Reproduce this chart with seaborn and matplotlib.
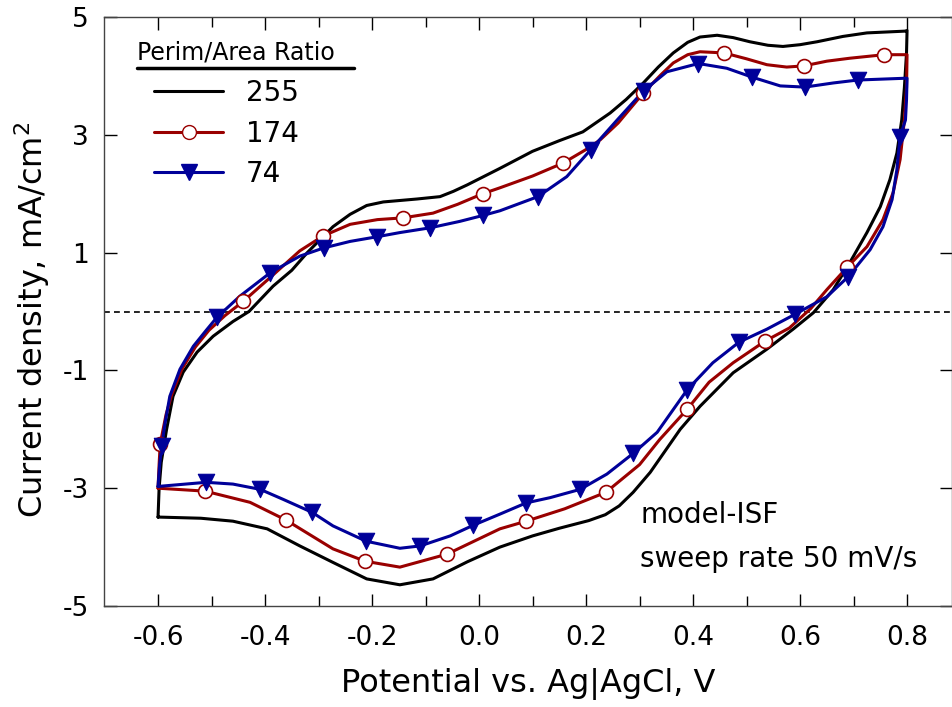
import numpy as np
import pandas as pd
import matplotlib
matplotlib.use("Agg")
import matplotlib.pyplot as plt
from matplotlib.lines import Line2D
import seaborn as sns

# ---- data (potential V, current density mA/cm2) ----
# each loop: anodic sweep -0.6 -> 0.8, then cathodic sweep 0.8 -> -0.6
x_255 = [-0.6, -0.598, -0.594, -0.584, -0.572, -0.553, -0.527, -0.497, -0.46, -0.43,
         -0.385, -0.35, -0.321, -0.295, -0.273, -0.241, -0.21, -0.179, -0.116, -0.073, -0.048,
         -0.022, 0.039, 0.10, 0.15, 0.194, 0.245, 0.275, 0.307, 0.335, 0.363, 0.39,
         0.413, 0.445, 0.475, 0.506, 0.54, 0.568, 0.60, 0.632, 0.68, 0.725, 0.796, 0.80,
         0.799, 0.795, 0.79, 0.781, 0.768, 0.75, 0.725, 0.693, 0.662, 0.625, 0.587, 0.538,
         0.475, 0.413, 0.376, 0.32, 0.288, 0.262, 0.236, 0.205, 0.15, 0.10, 0.039, -0.022,
         -0.086, -0.148, -0.21, -0.273, -0.335, -0.396, -0.46, -0.52, -0.6]
y_255 = [-3.49, -3.0, -2.56, -2.0, -1.44, -1.03, -0.69, -0.42, -0.17, 0.0,
         0.43, 0.70, 1.0, 1.24, 1.44, 1.65, 1.80, 1.86, 1.91, 1.95, 2.04,
         2.15, 2.43, 2.72, 2.90, 3.05, 3.37, 3.6, 3.88, 4.15, 4.39, 4.57,
         4.66, 4.69, 4.65, 4.58, 4.52, 4.50, 4.53, 4.58, 4.67, 4.73, 4.76, 4.77,
         4.39, 3.8, 3.25, 2.69, 2.24, 1.78, 1.34, 0.83, 0.37, -0.02, -0.3, -0.64,
         -1.04, -1.61, -2.0, -2.73, -3.07, -3.3, -3.45, -3.55, -3.68, -3.81, -4.0, -4.25,
         -4.54, -4.64, -4.54, -4.26, -3.98, -3.69, -3.56, -3.51, -3.49]

x_174 = [-0.6, -0.598, -0.596, -0.585, -0.574, -0.555, -0.53, -0.505, -0.475, -0.441,
         -0.39, -0.335, -0.292, -0.241, -0.19, -0.142, -0.086, -0.04, 0.007, 0.039,
         0.10, 0.157, 0.20, 0.226, 0.26, 0.307, 0.34, 0.363, 0.39, 0.413, 0.458, 0.50,
         0.538, 0.575, 0.607, 0.65, 0.693, 0.757, 0.80,
         0.799, 0.795, 0.787, 0.774, 0.755, 0.725, 0.688, 0.65, 0.62, 0.58, 0.535,
         0.475, 0.43, 0.389, 0.338, 0.30, 0.237, 0.16, 0.088, 0.039, -0.06, -0.148,
         -0.213, -0.273, -0.361, -0.428, -0.512, -0.6]
y_174 = [-3.0, -2.6, -2.25, -1.75, -1.4, -0.97, -0.6, -0.32, -0.07, 0.17,
         0.58, 1.03, 1.28, 1.48, 1.56, 1.59, 1.67, 1.82, 2.0, 2.1,
         2.3, 2.52, 2.75, 2.91, 3.2, 3.71, 4.02, 4.22, 4.36, 4.41, 4.39, 4.29,
         4.19, 4.15, 4.17, 4.25, 4.30, 4.36, 4.36,
         3.8, 3.25, 2.58, 2.02, 1.56, 1.1, 0.75, 0.37, 0.05, -0.28, -0.5,
         -0.87, -1.2, -1.66, -2.17, -2.6, -3.07, -3.35, -3.56, -3.69, -4.12, -4.34,
         -4.24, -4.03, -3.54, -3.24, -3.05, -3.0]
mx_174 = [-0.596, -0.441, -0.292, -0.142, 0.007, 0.157, 0.307, 0.458, 0.607, 0.757,
          0.688, 0.535, 0.389, 0.237, 0.088, -0.06, -0.213, -0.361, -0.512]
my_174 = [-2.25, 0.17, 1.28, 1.59, 2.0, 2.52, 3.71, 4.39, 4.17, 4.36,
          0.75, -0.5, -1.66, -3.07, -3.56, -4.12, -4.24, -3.54, -3.05]

x_74 = [-0.6, -0.597, -0.593, -0.587, -0.578, -0.559, -0.534, -0.51, -0.49, -0.447,
        -0.39, -0.335, -0.29, -0.241, -0.19, -0.148, -0.092, -0.036, 0.007, 0.039,
        0.11, 0.164, 0.209, 0.258, 0.308, 0.351, 0.41, 0.463, 0.51, 0.563, 0.609,
        0.662, 0.708, 0.796, 0.80,
        0.799, 0.797, 0.787, 0.781, 0.772, 0.755, 0.731, 0.69, 0.65, 0.59, 0.538,
        0.486, 0.437, 0.389, 0.333, 0.288, 0.239, 0.189, 0.133, 0.088, 0.039, -0.011,
        -0.054, -0.11, -0.148, -0.211, -0.273, -0.312, -0.366, -0.409, -0.46, -0.51, -0.6]
y_74 = [-2.97, -2.6, -2.28, -1.9, -1.44, -0.98, -0.59, -0.32, -0.1, 0.26,
        0.66, 0.94, 1.08, 1.19, 1.27, 1.34, 1.42, 1.53, 1.63, 1.71,
        1.95, 2.29, 2.75, 3.25, 3.75, 4.07, 4.21, 4.13, 3.98, 3.83, 3.81,
        3.88, 3.93, 3.96, 3.96,
        3.6, 3.25, 2.97, 2.41, 1.9, 1.44, 1.05, 0.59, 0.25, -0.05, -0.3,
        -0.52, -0.87, -1.33, -2.05, -2.41, -2.76, -3.02, -3.16, -3.25, -3.44, -3.63,
        -3.81, -3.98, -4.02, -3.90, -3.64, -3.41, -3.19, -3.02, -2.93, -2.9, -2.97]
mx_74 = [-0.593, -0.49, -0.39, -0.29, -0.19, -0.092, 0.007, 0.11, 0.209, 0.308,
         0.41, 0.51, 0.609, 0.708,
         0.787, 0.69, 0.59, 0.486, 0.389, 0.288, 0.189, 0.088, -0.011, -0.11,
         -0.211, -0.312, -0.409, -0.51]
my_74 = [-2.28, -0.1, 0.66, 1.08, 1.27, 1.42, 1.63, 1.95, 2.75, 3.75,
         4.21, 3.98, 3.81, 3.93,
         2.97, 0.59, -0.05, -0.52, -1.33, -2.41, -3.02, -3.25, -3.63, -3.98,
         -3.90, -3.41, -3.02, -2.9]

labels = ["255", "174", "74"]
colors = ["#000000", "#990000", "#000099"]

# ---- style ----
sns.set_style("ticks")
plt.rcParams["font.family"] = ["DejaVu Sans"]
plt.rcParams["axes.unicode_minus"] = False
plt.rcParams["text.color"] = "black"
plt.rcParams["axes.labelcolor"] = "black"
plt.rcParams["xtick.direction"] = "in"
plt.rcParams["ytick.direction"] = "in"

fig = plt.figure(figsize=(9.52, 7.07), dpi=100)
ax = fig.add_axes([104 / 952, 1 - 606 / 707, 848 / 952, 589 / 707])

ax.axhline(0, color="black", lw=1.2, ls=(0, (3.5, 2.5)), zorder=1)

curves = [(x_255, y_255), (x_174, y_174), (x_74, y_74)]
df = pd.concat(
    [pd.DataFrame({"E": xs, "j": ys, "ratio": lab}) for (xs, ys), lab in zip(curves, labels)],
    ignore_index=True,
)
for lab, col in zip(labels, colors):
    sub = df[df["ratio"] == lab]
    sns.lineplot(data=sub, x="E", y="j", sort=False, estimator=None, color=col,
                 lw=2.2, ax=ax, legend=False, zorder=2)

sns.scatterplot(x=mx_174, y=my_174, marker="o", s=100, facecolor="white",
                edgecolor=colors[1], linewidth=1.2, ax=ax, zorder=3)
sns.scatterplot(x=mx_74, y=my_74, marker="v", s=140, color=colors[2],
                edgecolor=colors[2], linewidth=0.8, ax=ax, zorder=4)

ax.set_xlim(-0.701, 0.884)
ax.set_ylim(-5, 5)
ax.set_xticks(np.arange(-0.6, 0.81, 0.2))
ax.set_xticklabels(["-0.6", "-0.4", "-0.2", "0.0", "0.2", "0.4", "0.6", "0.8"])
ax.set_xticks(np.arange(-0.5, 0.9, 0.2), minor=True)
ax.set_yticks([-5, -3, -1, 1, 3, 5])
ax.tick_params(axis="both", which="major", labelsize=19, length=9, width=1,
               top=True, right=True, colors="black", labelcolor="black")
ax.tick_params(axis="x", which="major", pad=14)
ax.tick_params(axis="y", which="major", pad=11)
ax.tick_params(axis="x", which="minor", length=7, width=1, top=True, colors="black")
for sp in ax.spines.values():
    sp.set_linewidth(1.0)
    sp.set_color("#444444")

ax.set_xlabel("Potential vs. Ag|AgCl, V", fontsize=23, va="center")
ax.set_ylabel("Current density, mA/cm$^2$", fontsize=23, va="center")
ax.xaxis.set_label_coords((528 - 104) / 848, -(684 - 606) / 589)
ax.yaxis.set_label_coords(-(104 - 32) / 848, (606 - 320) / 589)

# legend
handles = [
    Line2D([], [], color=colors[0], lw=2.2),
    Line2D([], [], color=colors[1], lw=2.2, marker="o", ms=10, mfc="white", mec=colors[1]),
    Line2D([], [], color=colors[2], lw=2.2, marker="v", ms=11, mfc=colors[2], mec=colors[2]),
]
fig.legend(handles, labels, loc="upper left", bbox_to_anchor=(154 / 952, 1 - 79 / 707),
           frameon=False, fontsize=20, handlelength=2.5, handletextpad=0.8,
           labelspacing=0.45, borderpad=0, borderaxespad=0)
fig.text(137 / 952, 1 - 52 / 707, "Perim/Area Ratio", fontsize=17, va="center", ha="left")
fig.add_artist(Line2D([137 / 952, 354 / 952], [1 - 68 / 707, 1 - 68 / 707],
                      color="black", lw=2.5, transform=fig.transFigure))

ax.text(0.301, -3.45, "model-ISF", fontsize=20, ha="left", va="center")
ax.text(0.301, -4.2, "sweep rate 50 mV/s", fontsize=20, ha="left", va="center")

fig.savefig("out.png", dpi=100)
